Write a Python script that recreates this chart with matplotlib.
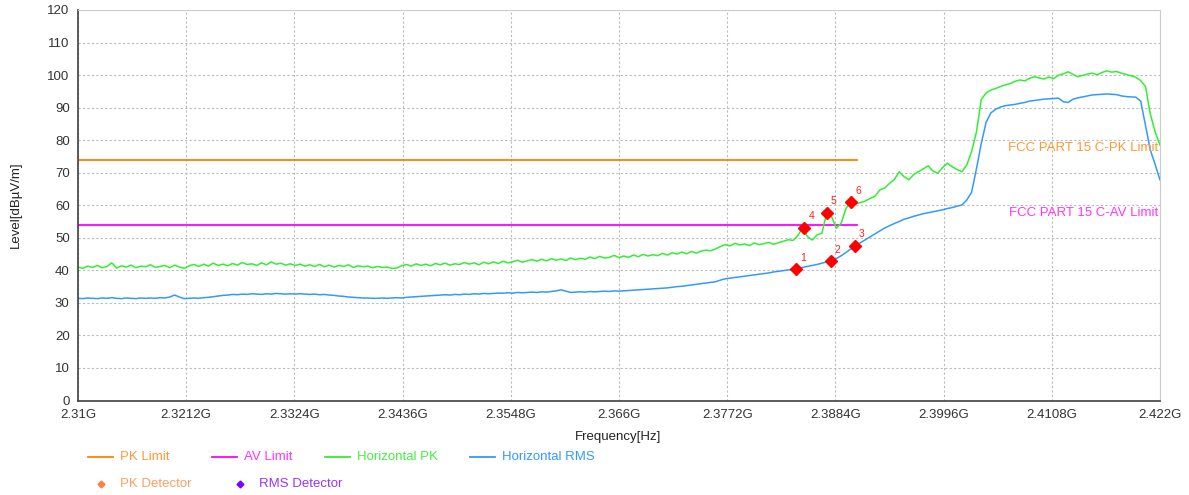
import numpy as np
import matplotlib
matplotlib.use("Agg")
import matplotlib.pyplot as plt
from matplotlib.lines import Line2D

plt.rcParams['font.family'] = ['Liberation Sans', 'DejaVu Sans']

# sweep grid (0.5 MHz steps from 2.31 GHz to 2.422 GHz)
freq = np.linspace(2.31, 2.422, 225)

horiz_pk = [
    41.0, 40.6, 41.3, 40.9, 41.5, 40.8, 41.2, 42.3, 40.7, 41.4, 41.0, 41.6, 40.8, 41.3, 41.1,
    41.7, 40.9, 41.2, 41.5, 40.8, 41.6, 41.0, 40.6, 41.4, 41.8, 41.2, 41.9, 41.3, 42.2, 41.5,
    41.9, 41.4, 42.1, 41.6, 42.4, 41.8, 42.0, 41.5, 42.3, 41.7, 42.6, 41.9, 42.2, 41.6, 42.0,
    41.5, 41.9, 41.3, 41.7, 41.2, 41.8, 41.1, 41.6, 41.0, 41.5, 41.2, 41.7, 40.9, 41.4, 41.1,
    41.3, 40.8, 41.2, 40.9, 41.0, 40.6, 40.7, 41.4, 41.8, 41.3, 42.0, 41.5, 41.9, 41.4, 42.1,
    41.7, 42.2, 41.6, 42.0, 41.8, 42.4, 41.9, 42.3, 41.7, 42.5, 42.0, 42.6, 42.1, 42.8, 42.3,
    42.6, 43.1, 42.5, 42.9, 43.3, 42.8, 43.4, 42.9, 43.6, 43.1, 43.5, 43.0, 43.8, 43.3, 43.7,
    43.4, 44.1, 43.6, 44.3, 43.8, 44.0, 44.6, 43.9, 44.4, 44.0, 44.7, 44.2, 44.9, 44.4, 44.8,
    44.5, 45.2, 44.7, 45.4, 45.0, 45.6, 45.1, 45.8, 45.3, 45.9, 46.2, 46.0, 46.6, 47.3, 47.9,
    47.5, 48.3, 47.8, 48.1, 47.6, 48.4, 47.9, 48.2, 48.6, 48.0, 48.5, 48.9, 49.4, 49.2, 50.6,
    53.1, 50.4, 49.3, 50.9, 51.4, 57.7, 56.5, 52.9, 54.5, 59.1, 60.9, 60.4, 60.8, 61.3, 62.1,
    62.8, 64.7, 65.3, 66.7, 67.9, 70.3, 68.8, 67.8, 69.4, 70.3, 71.2, 72.1, 70.5, 69.8, 71.6,
    72.9, 71.8, 71.0, 70.3, 72.4, 76.5, 82.5, 92.5, 94.5, 95.4, 95.9, 96.5, 97.0, 97.4, 98.1,
    98.5, 98.2, 99.0, 99.5, 99.1, 98.8, 99.4, 98.9, 100.0, 100.4, 101.0, 100.2, 99.5, 99.9, 100.3,
    100.6, 100.1, 100.8, 101.3, 100.9, 101.1, 100.6, 100.2, 99.8, 99.3, 98.3, 96.5, 88.0, 82.5, 78.5,
]

horiz_rms = [
    31.4, 31.3, 31.5, 31.4, 31.3, 31.5, 31.4, 31.6, 31.4, 31.3, 31.5, 31.4, 31.3, 31.5, 31.4,
    31.5, 31.4, 31.6, 31.5, 31.8, 32.4, 31.8, 31.3, 31.4, 31.5, 31.4, 31.6, 31.7, 31.9, 32.1,
    32.3, 32.4, 32.6, 32.5, 32.7, 32.6, 32.8, 32.7, 32.6, 32.8, 32.7, 32.9, 32.8, 32.7, 32.8,
    32.7, 32.8, 32.7, 32.6, 32.7, 32.5, 32.6, 32.4, 32.3, 32.1, 32.0, 31.8, 31.7, 31.6, 31.5,
    31.5, 31.4, 31.4, 31.5, 31.4, 31.5, 31.6, 31.5, 31.7, 31.8, 31.9, 32.0, 32.1, 32.2, 32.3,
    32.4, 32.5, 32.4, 32.6, 32.5, 32.7, 32.6, 32.8, 32.7, 32.9, 32.8, 32.9, 33.0, 33.0, 33.1,
    33.0, 33.2, 33.1, 33.2, 33.3, 33.2, 33.4, 33.3, 33.5, 33.7, 34.0, 33.6, 33.2, 33.3, 33.4,
    33.3, 33.5, 33.4, 33.5, 33.6, 33.5, 33.7, 33.6, 33.7, 33.8, 33.9, 34.0, 34.1, 34.2, 34.3,
    34.4, 34.5, 34.6, 34.8, 35.0, 35.1, 35.3, 35.5, 35.7, 35.9, 36.1, 36.3, 36.5, 37.0, 37.4,
    37.6, 37.8, 38.0, 38.2, 38.4, 38.6, 38.8, 39.0, 39.2, 39.5, 39.7, 39.9, 40.1, 40.4, 40.6,
    40.9, 41.2, 41.5, 41.8, 42.2, 42.6, 42.9, 43.6, 44.5, 45.5, 46.6, 47.6, 48.5, 49.4, 50.3,
    51.2, 52.1, 53.0, 53.7, 54.4, 55.0, 55.7, 56.1, 56.6, 57.0, 57.4, 57.7, 58.0, 58.3, 58.6,
    59.0, 59.3, 59.7, 60.1, 61.6, 64.0, 71.2, 79.0, 85.5, 88.4, 89.5, 90.2, 90.6, 90.8, 91.0,
    91.3, 91.6, 92.0, 92.2, 92.4, 92.6, 92.7, 92.8, 92.9, 91.8, 91.6, 92.6, 93.0, 93.3, 93.6,
    93.9, 94.0, 94.1, 94.2, 94.1, 94.0, 93.6, 93.4, 93.3, 93.2, 92.0, 84.5, 77.0, 72.5, 67.8,
]

limit_freq = [2.31, 2.3906]
pk_limit = [74, 74]
av_limit = [54, 54]

det_freq = [2.3843, 2.3879, 2.3904, 2.3852, 2.3875, 2.3900]
det_level = [40.4, 42.9, 47.6, 53.1, 57.7, 60.9]
det_label = ['1', '2', '3', '4', '5', '6']

xticks = [2.31, 2.3212, 2.3324, 2.3436, 2.3548, 2.366, 2.3772, 2.3884, 2.3996, 2.4108, 2.422]
xtick_labels = ['2.31G', '2.3212G', '2.3324G', '2.3436G', '2.3548G', '2.366G',
                '2.3772G', '2.3884G', '2.3996G', '2.4108G', '2.422G']

W, H = 1189, 495
fig = plt.figure(figsize=(W / 100, H / 100), dpi=100)
ax = fig.add_axes([78 / W, 1 - 400.5 / H, (1160 - 78) / W, (400.5 - 10) / H])


def px(x, y):
    # figure pixel -> figure fraction
    return x / W, 1 - y / H


c_pk = '#FF8000'
c_av = '#FF00FF'
c_green = '#33EE33'
c_blue = '#3399FF'

ax.plot(limit_freq, pk_limit, color=c_pk, lw=1.3)
ax.plot(limit_freq, av_limit, color=c_av, lw=1.3)
ax.plot(freq, horiz_pk, color=c_green, lw=1.1)
ax.plot(freq, horiz_rms, color=c_blue, lw=1.1)
ax.plot(det_freq, det_level, 'D', color='#FF0000', ms=6.3, ls='none', zorder=5)
for f, lv, lb in zip(det_freq, det_level, det_label):
    ax.annotate(lb, (f, lv), xytext=(3, 6), textcoords='offset points',
                color='#FF2020', fontsize=7.5)

ax.text(2.4218, 77.5, 'FCC PART 15 C-PK Limit', color='#FF9933', fontsize=9.5,
        ha='right', va='center')
ax.text(2.4218, 57.5, 'FCC PART 15 C-AV Limit', color='#FF33FF', fontsize=9.5,
        ha='right', va='center')

ax.set_xlim(2.31, 2.422)
ax.set_ylim(0, 120)
ax.set_xticks(xticks)
ax.set_xticklabels(xtick_labels)
ax.set_yticks(range(0, 121, 10))
ax.tick_params(length=0, labelsize=9.5, colors='#333333', pad=6)
ax.grid(True, color='#BBBBBB', linestyle=(0, (2, 2)), lw=0.8)
for s in ['top', 'right']:
    ax.spines[s].set_color('#CCCCCC')
for s in ['left', 'bottom']:
    ax.spines[s].set_color('#404040')
    ax.spines[s].set_linewidth(1.2)

fig.text(*px(618, 437), 'Frequency[Hz]', ha='center', va='center', fontsize=9.5, color='#222222')
fig.text(*px(16, 205), 'Level[dB\u00b5V/m]', ha='center', va='center', rotation=90,
         fontsize=9.5, color='#222222')

# legend, row 1: lines
legend_rows = [
    (88, 'PK Limit', c_pk, '#FF9933'),
    (212, 'AV Limit', c_av, '#FF33FF'),
    (325, 'Horizontal PK', c_green, '#44EE44'),
    (470, 'Horizontal RMS', c_blue, '#3399FF'),
]
for x0, lab, lc, tc in legend_rows:
    x1, y1 = px(x0, 457)
    x2, _ = px(x0 + 25, 457)
    fig.add_artist(Line2D([x1, x2], [y1, y1], color=lc, lw=1.3, transform=fig.transFigure))
    fig.text(*px(x0 + 32, 457), lab, color=tc, fontsize=9.5, va='center')

# legend, row 2: detector markers
for x0, lab, mc, tc in [(101, 'PK Detector', '#FF8040', '#FFA060'),
                        (240, 'RMS Detector', '#8000FF', '#9933FF')]:
    mx, my = px(x0, 484)
    fig.add_artist(Line2D([mx], [my], marker='D', ms=3.5, color=mc, ls='none',
                          transform=fig.transFigure))
    fig.text(*px(x0 + 19, 484), lab, color=tc, fontsize=9.5, va='center')

fig.savefig('out.png', dpi=100)
